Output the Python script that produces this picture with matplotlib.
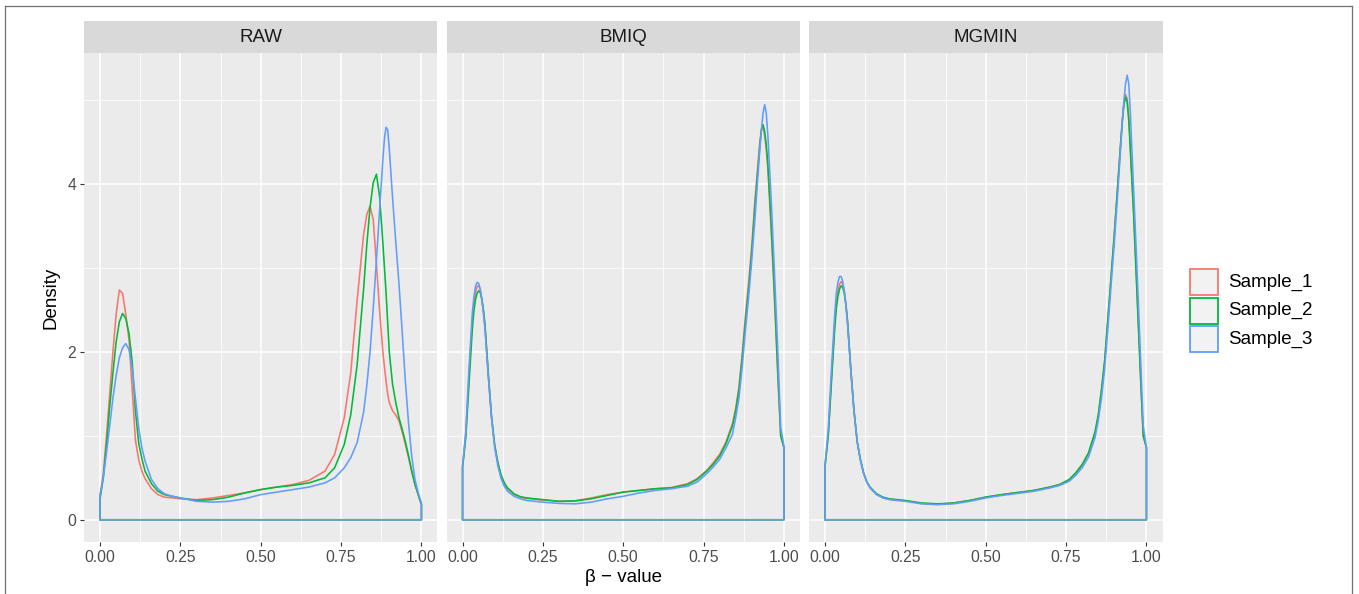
import matplotlib
matplotlib.use("Agg")
import matplotlib.pyplot as plt
from matplotlib.patches import Rectangle
from matplotlib.lines import Line2D

plt.rcParams['font.family'] = ['Liberation Sans', 'DejaVu Sans']

# ---- data -------------------------------------------------------------
panels = ["RAW", "BMIQ", "MGMIN"]
samples = ["Sample_1", "Sample_2", "Sample_3"]
colors = ["#F8766D", "#00BA38", "#619CFF"]

raw_x = [0.00, 0.01, 0.02, 0.03, 0.04, 0.05, 0.06, 0.07, 0.08, 0.09, 0.10, 0.11,
         0.12, 0.13, 0.14, 0.16, 0.18, 0.20, 0.225, 0.25, 0.30, 0.35, 0.40, 0.45,
         0.50, 0.55, 0.60, 0.65, 0.70, 0.73, 0.76, 0.78, 0.80, 0.82, 0.83, 0.84,
         0.85, 0.86, 0.87, 0.88, 0.885, 0.89, 0.895, 0.90, 0.91, 0.92, 0.93, 0.94,
         0.95, 0.96, 0.97, 0.98, 0.99, 1.00]
raw_s1 = [0.28, 0.55, 1.00, 1.50, 2.00, 2.45, 2.74, 2.70, 2.45, 2.15, 1.55, 0.95,
          0.72, 0.58, 0.49, 0.37, 0.30, 0.27, 0.26, 0.25, 0.24, 0.26, 0.29, 0.32,
          0.36, 0.39, 0.42, 0.47, 0.58, 0.78, 1.22, 1.75, 2.62, 3.40, 3.64, 3.74,
          3.58, 3.05, 2.48, 2.00, 1.82, 1.65, 1.50, 1.40, 1.30, 1.25, 1.18, 1.05,
          0.90, 0.74, 0.57, 0.42, 0.30, 0.18]
raw_s2 = [0.25, 0.50, 0.90, 1.35, 1.75, 2.12, 2.36, 2.46, 2.40, 2.22, 1.88, 1.30,
          0.92, 0.73, 0.58, 0.43, 0.34, 0.30, 0.28, 0.26, 0.23, 0.24, 0.27, 0.32,
          0.36, 0.39, 0.41, 0.44, 0.50, 0.62, 0.90, 1.25, 1.85, 2.75, 3.28, 3.72,
          4.02, 4.12, 3.85, 3.30, 3.00, 2.70, 2.35, 2.00, 1.62, 1.40, 1.22, 1.08,
          0.93, 0.76, 0.58, 0.42, 0.30, 0.18]
raw_s3 = [0.30, 0.50, 0.80, 1.12, 1.45, 1.72, 1.93, 2.05, 2.10, 2.03, 1.80, 1.45,
          1.10, 0.86, 0.70, 0.48, 0.37, 0.31, 0.28, 0.26, 0.22, 0.21, 0.22, 0.25,
          0.30, 0.33, 0.36, 0.39, 0.44, 0.50, 0.62, 0.74, 0.92, 1.28, 1.60, 2.00,
          2.52, 3.10, 3.70, 4.30, 4.55, 4.68, 4.65, 4.42, 3.85, 3.32, 2.82, 2.25,
          1.65, 1.15, 0.75, 0.48, 0.32, 0.20]

norm_x = [0.00, 0.01, 0.02, 0.03, 0.035, 0.04, 0.045, 0.05, 0.055, 0.06, 0.065,
          0.07, 0.08, 0.09, 0.10, 0.11, 0.12, 0.13, 0.14, 0.16, 0.18, 0.20, 0.225,
          0.25, 0.30, 0.35, 0.40, 0.45, 0.50, 0.55, 0.60, 0.65, 0.70, 0.73, 0.76,
          0.78, 0.80, 0.82, 0.84, 0.85, 0.86, 0.87, 0.88, 0.89, 0.90, 0.91, 0.92,
          0.925, 0.93, 0.935, 0.94, 0.945, 0.95, 0.96, 0.97, 0.98, 0.99, 1.00]
bmiq_s1 = [0.64, 1.02, 1.72, 2.35, 2.55, 2.70, 2.78, 2.79, 2.74, 2.63, 2.48,
           2.28, 1.72, 1.22, 0.88, 0.67, 0.52, 0.43, 0.37, 0.30, 0.27, 0.255, 0.245,
           0.235, 0.22, 0.225, 0.26, 0.30, 0.33, 0.35, 0.37, 0.385, 0.43, 0.49, 0.59,
           0.68, 0.78, 0.93, 1.15, 1.33, 1.58, 1.97, 2.42, 2.82, 3.27, 3.82, 4.28,
           4.50, 4.66, 4.68, 4.58, 4.42, 4.18, 3.48, 2.68, 1.80, 1.00, 0.86]
bmiq_s2 = [0.62, 0.98, 1.62, 2.25, 2.48, 2.62, 2.70, 2.73, 2.71, 2.63, 2.50,
           2.32, 1.75, 1.24, 0.89, 0.68, 0.53, 0.44, 0.38, 0.31, 0.275, 0.26, 0.25,
           0.24, 0.22, 0.225, 0.25, 0.29, 0.33, 0.35, 0.37, 0.38, 0.42, 0.48, 0.58,
           0.66, 0.76, 0.91, 1.12, 1.30, 1.55, 1.92, 2.35, 2.75, 3.20, 3.75, 4.22,
           4.46, 4.65, 4.71, 4.63, 4.47, 4.24, 3.55, 2.75, 1.85, 1.00, 0.86]
bmiq_s3 = [0.64, 1.05, 1.80, 2.45, 2.65, 2.78, 2.83, 2.82, 2.75, 2.62, 2.46,
           2.26, 1.72, 1.22, 0.86, 0.64, 0.49, 0.40, 0.34, 0.28, 0.25, 0.23, 0.22,
           0.21, 0.195, 0.19, 0.21, 0.25, 0.28, 0.32, 0.35, 0.37, 0.40, 0.45, 0.55,
           0.63, 0.72, 0.86, 1.02, 1.22, 1.45, 1.82, 2.25, 2.65, 3.10, 3.60, 4.15,
           4.42, 4.65, 4.85, 4.95, 4.85, 4.58, 3.85, 3.00, 2.10, 1.10, 0.88]
mgmin_s1 = [0.65, 1.02, 1.70, 2.33, 2.58, 2.72, 2.81, 2.84, 2.81, 2.72, 2.57,
            2.36, 1.80, 1.30, 0.93, 0.71, 0.55, 0.45, 0.38, 0.305, 0.265, 0.245, 0.235,
            0.225, 0.195, 0.185, 0.20, 0.23, 0.27, 0.30, 0.325, 0.35, 0.39, 0.42, 0.48,
            0.55, 0.65, 0.79, 1.03, 1.23, 1.52, 1.88, 2.38, 2.88, 3.40, 3.95, 4.50,
            4.77, 4.97, 5.07, 5.02, 4.82, 4.45, 3.70, 2.80, 1.88, 1.00, 0.86]
mgmin_s2 = [0.64, 1.00, 1.65, 2.28, 2.52, 2.66, 2.75, 2.79, 2.77, 2.70, 2.56,
            2.36, 1.80, 1.30, 0.93, 0.72, 0.56, 0.45, 0.39, 0.31, 0.27, 0.25, 0.24,
            0.23, 0.20, 0.19, 0.20, 0.23, 0.27, 0.30, 0.325, 0.35, 0.39, 0.42, 0.48,
            0.56, 0.66, 0.80, 1.05, 1.25, 1.55, 1.90, 2.40, 2.90, 3.40, 3.95, 4.50,
            4.75, 4.95, 5.04, 4.98, 4.76, 4.40, 3.65, 2.75, 1.85, 1.00, 0.86]
mgmin_s3 = [0.66, 1.08, 1.80, 2.45, 2.70, 2.83, 2.90, 2.90, 2.84, 2.72, 2.55,
            2.33, 1.78, 1.30, 0.93, 0.71, 0.55, 0.45, 0.38, 0.30, 0.26, 0.24, 0.23,
            0.22, 0.19, 0.18, 0.19, 0.22, 0.26, 0.29, 0.315, 0.34, 0.38, 0.41, 0.46,
            0.53, 0.62, 0.75, 0.98, 1.18, 1.45, 1.80, 2.28, 2.80, 3.30, 3.85, 4.45,
            4.75, 5.00, 5.20, 5.30, 5.20, 4.85, 3.95, 3.05, 2.10, 1.12, 0.86]

x_ticks = [0.0, 0.25, 0.50, 0.75, 1.0]
x_tick_labels = ["0.00", "0.25", "0.50", "0.75", "1.00"]
y_ticks = [0, 2, 4]
y_tick_labels = ["0", "2", "4"]

panel_x = [raw_x, norm_x, norm_x]
panel_y = [[raw_s1, raw_s2, raw_s3],
           [bmiq_s1, bmiq_s2, bmiq_s3],
           [mgmin_s1, mgmin_s2, mgmin_s3]]

# ---- layout (pixel geometry of the canvas) ----------------------------
W, H = 1359, 594
fig = plt.figure(figsize=(W / 100, H / 100), dpi=100)
fig.patch.set_facecolor("white")

panel_left = [84, 446.5, 809]
panel_w = 353.5
panel_top, panel_bot = 53, 542
strip_top = 21

ymax = max(max(v) for grp in panel_y for v in grp)
ylim = (-0.05 * ymax, 1.05 * ymax)

for i, name in enumerate(panels):
    l = panel_left[i]
    ax = fig.add_axes([l / W, 1 - panel_bot / H, panel_w / W,
                       (panel_bot - panel_top) / H])
    ax.set_facecolor("#EBEBEB")
    for s in ax.spines.values():
        s.set_visible(False)
    ax.set_xlim(-0.05, 1.05)
    ax.set_ylim(*ylim)
    ax.set_xticks(x_ticks)
    ax.set_xticklabels(x_tick_labels)
    ax.set_xticks([0.125, 0.375, 0.625, 0.875], minor=True)
    ax.set_yticks(y_ticks)
    ax.set_yticks([1, 3, 5], minor=True)
    ax.grid(which="major", color="white", lw=1.1)
    ax.grid(which="minor", color="white", lw=0.55)
    ax.set_axisbelow(True)
    ax.tick_params(which="minor", length=0)
    ax.tick_params(which="major", length=3.0, width=0.8, color="#333333",
                   labelcolor="#4D4D4D", labelsize=11.3)
    ax.tick_params(axis="x", pad=3.0)
    ax.tick_params(axis="y", pad=2.5)
    if i == 0:
        ax.set_yticklabels(y_tick_labels)
    else:
        ax.tick_params(axis="y", which="both", length=0, labelleft=False)

    xs = panel_x[i]
    for vals, col in zip(panel_y[i], colors):
        px = [xs[0]] + list(xs) + [xs[-1], xs[0]]
        py = [0.0] + list(vals) + [0.0, 0.0]
        ax.plot(px, py, color=col, lw=1.15, solid_joinstyle="round",
                solid_capstyle="round")

    # facet strip
    sax = fig.add_axes([l / W, 1 - panel_top / H, panel_w / W,
                        (panel_top - strip_top) / H])
    sax.set_facecolor("#D9D9D9")
    sax.set_xticks([])
    sax.set_yticks([])
    for s in sax.spines.values():
        s.set_visible(False)
    sax.text(0.5, 0.5, name, ha="center", va="center", fontsize=13.5,
             color="#1A1A1A", transform=sax.transAxes)

# ---- overlay in pixel coordinates: titles, legend, frame --------------
ov = fig.add_axes([0, 0, 1, 1], facecolor="none")
ov.set_xlim(0, W)
ov.set_ylim(H, 0)
ov.axis("off")

ov.text(51, (panel_top + panel_bot) / 2, "Density", rotation=90,
        ha="center", va="center", fontsize=13.5, color="black")
ov.text((panel_left[0] + panel_left[-1] + panel_w) / 2, 577,
        "\u03b2 \u2212 value", ha="center", va="center",
        fontsize=13.5, color="black")

key_x, key_w, key_h, key_step, key_y0 = 1190, 28, 26, 28.7, 269
for j, (lab, col) in enumerate(zip(samples, colors)):
    y = key_y0 + j * key_step
    ov.add_patch(Rectangle((key_x, y), key_w, key_h, facecolor="#F2F2F2",
                           edgecolor=col, lw=1.3))
    ov.text(key_x + key_w + 10, y + key_h / 2, lab, ha="left", va="center",
            fontsize=13.5, color="black")

frame_kw = dict(color="#707070", lw=0.9)
ov.add_line(Line2D([5, 5], [6, H], **frame_kw))
ov.add_line(Line2D([5, 1352], [6, 6], **frame_kw))
ov.add_line(Line2D([1352, 1352], [6, H], **frame_kw))

fig.savefig("out.png", dpi=100)
